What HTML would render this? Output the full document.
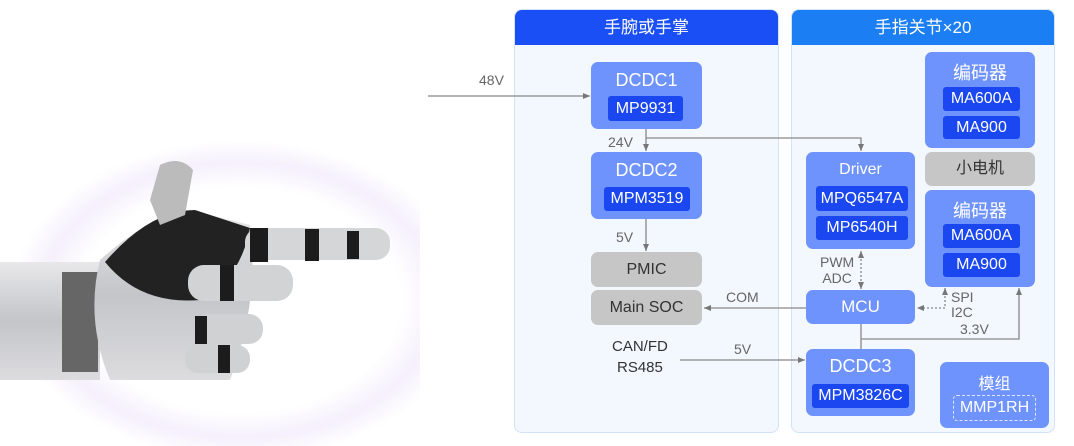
<!DOCTYPE html>
<html><head><meta charset="utf-8"><style>
*{margin:0;padding:0;box-sizing:border-box}
body{width:1074px;height:446px;overflow:hidden;background:#fff;position:relative;font-family:"Liberation Sans","Noto Sans CJK SC",sans-serif}
.a{position:absolute}
.panel{position:absolute;top:9px;height:424px;background:#f3f7fe;border:1px solid #d3e1fa;border-radius:8px;overflow:hidden}
.hdr{height:35px;color:#fff;font-size:17px;text-align:center;line-height:35px}
.b{position:absolute;background:#6f93fc;border-radius:7px;color:#fff;text-align:center;font-size:18px}
.g{position:absolute;background:#c6c6c6;border-radius:7px;color:#333;text-align:center;font-size:16px}
.i{position:absolute;background:#1a47f0;border-radius:3px;color:#fff;text-align:center;font-size:16px}
.t{position:absolute;color:#666;font-size:14px}
</style></head><body>
<svg class="a" style="left:0;top:0" width="420" height="446">
<defs>
<radialGradient id="glow" cx="0.5" cy="0.5" r="0.5"><stop offset="0.7" stop-color="#fff"/><stop offset="0.86" stop-color="#f5f0fc"/><stop offset="1" stop-color="#fff"/></radialGradient>
<linearGradient id="met" x1="0" y1="0" x2="0" y2="1"><stop offset="0" stop-color="#e8e8ea"/><stop offset="0.5" stop-color="#c4c5c9"/><stop offset="1" stop-color="#dcdcde"/></linearGradient>
</defs>
<ellipse cx="240" cy="300" rx="230" ry="160" fill="url(#glow)"/>
<rect x="0" y="262" width="100" height="118" fill="url(#met)"/>
<rect x="62" y="272" width="36" height="100" fill="#666"/>
<path d="M100 260 Q150 215 190 210 L250 225 Q260 300 230 380 L110 380 Q85 320 100 260Z" fill="url(#met)"/>
<path d="M105 262 Q150 210 195 210 L250 228 Q240 280 200 300 Q140 305 105 262Z" fill="#222"/>
<path d="M150 200 L160 165 Q180 155 193 170 L185 215 L160 225Z" fill="#bbb"/>
<rect x="245" y="228" width="145" height="32" rx="14" fill="#d5d6d8"/>
<rect x="250" y="228" width="18" height="34" fill="#1c1c1c"/>
<rect x="305" y="229" width="14" height="32" fill="#1c1c1c"/>
<rect x="347" y="231" width="12" height="28" fill="#1c1c1c"/>
<rect x="188" y="265" width="105" height="36" rx="16" fill="#d2d3d5"/>
<rect x="220" y="265" width="14" height="36" fill="#1c1c1c"/>
<rect x="195" y="314" width="68" height="30" rx="14" fill="#d0d1d3"/>
<rect x="195" y="316" width="12" height="28" fill="#1c1c1c"/>
<rect x="185" y="345" width="65" height="28" rx="13" fill="#d0d1d3"/>
<rect x="218" y="345" width="12" height="28" fill="#1c1c1c"/>
</svg>

<div class="panel" style="left:514px;width:265px"><div class="hdr" style="background:#1a4ff5">手腕或手掌</div></div>
<div class="panel" style="left:791px;width:264px"><div class="hdr" style="background:#1b7ef2">手指关节×20</div></div>

<svg class="a" style="left:0;top:0" width="1074" height="446">
<defs><marker id="ar" markerWidth="8" markerHeight="8" refX="7" refY="4" orient="auto-start-reverse" markerUnits="userSpaceOnUse"><path d="M0 1L7 4L0 7Z" fill="#777"/></marker></defs>
<g stroke="#888" stroke-width="1.3" fill="none">
<line x1="428" y1="96" x2="590" y2="96" marker-end="url(#ar)"/>
<line x1="646" y1="129" x2="646" y2="151" marker-end="url(#ar)"/>
<polyline points="646,138 861,138 861,151" marker-end="url(#ar)"/>
<line x1="646" y1="219" x2="646" y2="251" marker-end="url(#ar)"/>
<line x1="806" y1="308" x2="704" y2="308" marker-end="url(#ar)"/>
<line x1="680" y1="360" x2="805" y2="360" marker-end="url(#ar)"/>
<line x1="861" y1="324" x2="861" y2="349"/>
<polyline points="861,339 1019,339 1019,288" marker-end="url(#ar)"/>
<line x1="861" y1="251" x2="861" y2="289" stroke-dasharray="2,2" marker-start="url(#ar)" marker-end="url(#ar)"/>
<polyline points="945,288 945,308 917,308" stroke-dasharray="2,2" marker-start="url(#ar)" marker-end="url(#ar)"/>
</g></svg>

<div class="t" style="left:479px;top:72px">48V</div>
<div class="t" style="left:608px;top:134px">24V</div>
<div class="t" style="left:616px;top:229px">5V</div>
<div class="t" style="left:726px;top:289px">COM</div>
<div class="t" style="left:734px;top:341px">5V</div>
<div class="a" style="left:612px;top:336px;font-size:15px;color:#333;text-align:center;line-height:21px">CAN/FD<br>RS485</div>
<div class="t" style="left:820px;top:254px;line-height:16px;text-align:center">PWM<br>ADC</div>
<div class="t" style="left:951px;top:290px;line-height:15px">SPI<br>I2C</div>
<div class="t" style="left:960px;top:321px">3.3V</div>

<div class="b" style="left:591px;top:62px;width:111px;height:67px;padding-top:8px">DCDC1</div>
<div class="i" style="left:608px;top:96px;width:75px;height:25px;line-height:25px">MP9931</div>
<div class="b" style="left:591px;top:152px;width:111px;height:67px;padding-top:8px">DCDC2</div>
<div class="i" style="left:604px;top:187px;width:86px;height:24px;line-height:24px">MPM3519</div>
<div class="g" style="left:591px;top:252px;width:111px;height:35px;line-height:35px">PMIC</div>
<div class="g" style="left:591px;top:290px;width:111px;height:35px;line-height:35px">Main SOC</div>

<div class="b" style="left:806px;top:152px;width:109px;height:97px;padding-top:9px;font-size:16px">Driver</div>
<div class="i" style="left:816px;top:186px;width:92px;height:25px;line-height:25px">MPQ6547A</div>
<div class="i" style="left:816px;top:216px;width:92px;height:24px;line-height:24px">MP6540H</div>
<div class="b" style="left:806px;top:290px;width:109px;height:34px;line-height:34px;font-size:17px">MCU</div>
<div class="b" style="left:806px;top:349px;width:109px;height:67px;padding-top:7px">DCDC3</div>
<div class="i" style="left:812px;top:384px;width:97px;height:24px;line-height:24px">MPM3826C</div>

<div class="b" style="left:925px;top:52px;width:110px;height:96px;padding-top:7px">编码器</div>
<div class="i" style="left:943px;top:87px;width:77px;height:24px;line-height:24px">MA600A</div>
<div class="i" style="left:943px;top:116px;width:77px;height:23px;line-height:23px">MA900</div>
<div class="g" style="left:925px;top:152px;width:110px;height:34px;line-height:34px">小电机</div>
<div class="b" style="left:925px;top:190px;width:110px;height:97px;padding-top:7px">编码器</div>
<div class="i" style="left:943px;top:224px;width:77px;height:24px;line-height:24px">MA600A</div>
<div class="i" style="left:943px;top:253px;width:77px;height:24px;line-height:24px">MA900</div>
<div class="b" style="left:940px;top:362px;width:109px;height:66px;padding-top:8px;font-size:16px">模组</div>
<div class="a" style="left:953px;top:395px;width:83px;height:26px;border:1px dashed #dfe6ff;border-radius:4px;color:#fff;font-size:16px;text-align:center;line-height:24px">MMP1RH</div>
</body></html>
